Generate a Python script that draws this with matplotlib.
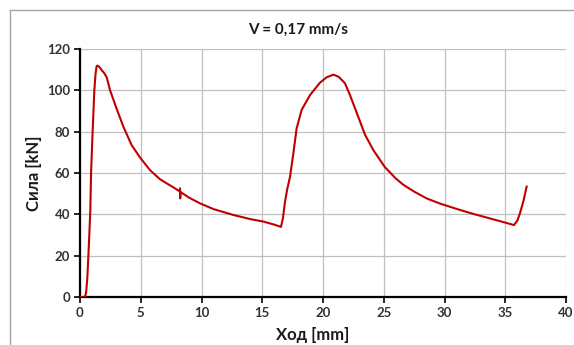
import numpy as np
import matplotlib
matplotlib.use('Agg')
from matplotlib import pyplot as plt
from matplotlib.lines import Line2D

plt.rcParams['font.family'] = ['Lato', 'Open Sans', 'DejaVu Sans']

## data (stroke in mm, force in kN)
hod = [0, 0.4, 0.5, 0.6, 0.69, 0.78, 0.85, 0.91, 1.04, 1.18, 1.28, 1.36, 1.43,
       1.6, 1.78, 2.0, 2.2, 2.47, 2.75, 3.02, 3.57, 4.25, 4.94, 5.76, 6.58,
       7.13, 7.7, 8.23, 8.23, 8.25, 8.27, 9.0, 9.88, 11.0, 12.62, 14.0, 15.09,
       16.0, 16.54, 16.7, 16.87, 17.05, 17.28, 17.56, 17.83, 18.24, 18.93,
       19.75, 20.3, 20.85, 21.3, 21.81, 22.22, 22.9, 23.46, 24.14, 25.1, 26.0,
       26.61, 27.5, 28.53, 29.63, 31.28, 32.5, 34.0, 35.0, 35.72, 36.0, 36.21,
       36.5, 36.76]
sila = [0, 0, 2, 9, 20, 32, 42, 60, 80, 100, 108, 111.5, 112,
        111.3, 109.8, 108.3, 106.3, 100.1, 95.5, 91, 82.4, 73.5, 67.5, 61.4, 57,
        55, 53, 51, 52.6, 47.7, 50.8, 48, 45.3, 42.5, 39.7, 37.7, 36.5,
        35, 33.9, 38, 46, 52, 58, 69.5, 81.6, 90.5, 97.7,
        103.7, 106.3, 107.6, 106.5, 103.4, 97.7, 87.2, 78.5, 71.1, 62.8, 57.3,
        54.3, 51, 47.7, 45.2, 42.1, 40, 37.6, 36, 34.8, 37, 40.5,
        46.5, 53.4]

x_ticks = [0, 5, 10, 15, 20, 25, 30, 35, 40]
y_ticks = [0, 20, 40, 60, 80, 100, 120]

W, H = 574, 345
fig = plt.figure(figsize=(W / 100, H / 100), dpi=100)

## outer chart frame (only left and top edges are inside the image)
frame_col = '#A6A6A6'
fig.add_artist(Line2D([10 / W, 10 / W], [0, 1 - 10 / H], color=frame_col, lw=1.0))
fig.add_artist(Line2D([10 / W, 1], [1 - 10 / H, 1 - 10 / H], color=frame_col, lw=1.0))

ax = fig.add_axes([80 / W, 1 - 297 / H, (566 - 80) / W, (297 - 49) / H])

ax.plot(hod, sila, color='#C00000', lw=1.5, solid_joinstyle='round', zorder=3)

ax.set_xlim(0, 40)
ax.set_ylim(0, 120)
ax.set_xticks(x_ticks)
ax.set_yticks(y_ticks)
ax.grid(True, color='#C0C0C0', lw=0.9)
ax.set_axisbelow(True)

for side in ['top', 'right']:
    ax.spines[side].set_visible(False)
for side in ['left', 'bottom']:
    ax.spines[side].set_linewidth(1.6)
    ax.spines[side].set_color('black')

ax.tick_params(axis='both', direction='out', length=4, width=1.2, colors='black',
               labelsize=9.5, pad=3)
for lab in ax.get_xticklabels() + ax.get_yticklabels():
    lab.set_fontweight('bold')
    lab.set_color('#333333')

fig.text(298 / W, 1 - 30 / H, 'V = 0,17 mm/s', ha='center', va='center',
         fontsize=11, fontweight='bold', color='#1a1a1a')
fig.text(313 / W, 1 - 335 / H, 'Ход [mm]', ha='center', va='center',
         fontsize=12, fontweight='bold', color='#1a1a1a')
fig.text(34 / W, 1 - 173 / H, 'Сила [kN]', ha='center', va='center', rotation=90,
         fontsize=12, fontweight='bold', color='#1a1a1a')

fig.savefig('out.png', dpi=100)
